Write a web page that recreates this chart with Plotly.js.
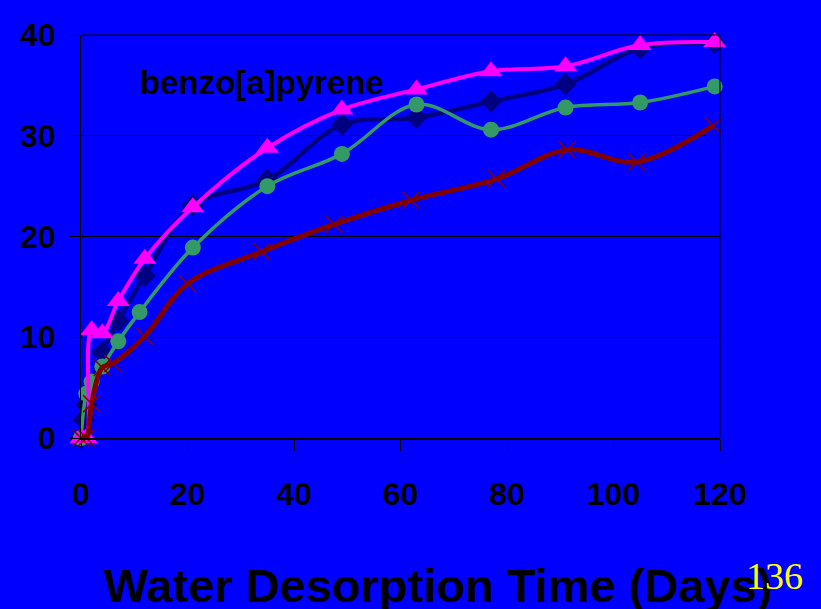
<!DOCTYPE html>
<html>
<head>
<meta charset="utf-8">
<script src="https://cdn.plot.ly/plotly-3.0.1.min.js"></script>
<style>html,body{margin:0;padding:0;background:#0000FF;}#chart{width:821px;height:609px;}</style>
</head>
<body>
<div id="chart"></div>
<script>
// Series (x = days, y = amount desorbed)
const navyX = [0, 0.5, 1, 4, 7, 12, 21, 35, 49, 63, 77, 91, 105, 119];
const navyY = [0, 1.8, 3.3, 8.5, 11.6, 16.1, 23.1, 25.6, 31.1, 31.8, 33.4, 35.1, 38.7, 39.2];

const magentaX = [0, 1, 2, 4, 7, 12, 21, 35, 49, 63, 77, 91, 105, 119];
const magentaY = [0, 0, 10.7, 10.4, 13.6, 17.8, 22.9, 28.8, 32.6, 34.6, 36.4, 36.9, 39.0, 39.3];

const greenX = [0, 1, 2, 4, 7, 11, 21, 35, 49, 63, 77, 91, 105, 119];
const greenY = [0, 4.4, 5.6, 7.1, 9.6, 12.5, 18.9, 25.0, 28.2, 33.1, 30.6, 32.8, 33.3, 34.9];

const redX = [0, 1, 2, 4, 6, 12, 20, 34, 47.5, 62, 78, 91.3, 104.4, 118.7];
const redY = [0, 0, 3.4, 7.0, 7.4, 10.1, 15.3, 18.5, 21.2, 23.6, 25.7, 28.6, 27.4, 31.0];

const xTicks = [0, 20, 40, 60, 80, 100, 120];
const yTicks = [0, 10, 20, 30, 40];

const labelText = "benzo[a]pyrene";
const xTitleText = "Water Desorption Time (Days)";
const pageNumber = "136";

const traces = [
  {x: navyX, y: navyY, mode: 'lines+markers', line: {color: '#000080', width: 4.5, shape: 'spline'},
   marker: {symbol: 'diamond', size: 17, color: '#000080'}, cliponaxis: false},
  {x: greenX, y: greenY, mode: 'lines+markers', line: {color: '#339966', width: 3.5, shape: 'spline'},
   marker: {symbol: 'circle', size: 16, color: '#339966'}, cliponaxis: false},
  {x: magentaX, y: magentaY, mode: 'lines+markers', line: {color: '#FF00FF', width: 4, shape: 'spline'},
   marker: {symbol: 'triangle-up', size: 20, color: '#FF00FF'}, cliponaxis: false},
  {x: redX, y: redY, mode: 'lines+markers', line: {color: '#800000', width: 5, shape: 'spline'},
   marker: {symbol: 'x-thin-open', size: 17, color: '#800000', line: {color: '#800000', width: 1.5}}, cliponaxis: false}
];

const tickFont = {family: 'Liberation Sans, Arial, sans-serif', size: 32, color: '#000000', weight: 'bold'};

const layout = {
  width: 821, height: 609,
  paper_bgcolor: '#0000FF', plot_bgcolor: '#0000FF',
  margin: {l: 81, r: 101, t: 35, b: 171, pad: 0},
  showlegend: false,
  xaxis: {
    range: [0, 120], tickvals: xTicks, ticktext: xTicks.map(String),
    showgrid: false, zeroline: false, showline: true, linecolor: '#000000', linewidth: 2,
    ticks: 'outside', ticklen: 11, tickcolor: '#000000', tickwidth: 1,
    tickfont: tickFont, ticklabelstandoff: 16, fixedrange: true
  },
  yaxis: {
    range: [0, 40], tickvals: yTicks, ticktext: yTicks.map(String),
    showgrid: true, gridcolor: '#000000', gridwidth: 1,
    zeroline: false, showline: true, linecolor: '#000000', linewidth: 1,
    ticks: 'outside', ticklen: 10, tickcolor: '#000000', tickwidth: 1,
    tickfont: tickFont, ticklabelstandoff: 8, fixedrange: true
  },
  shapes: [
    {type: 'line', xref: 'paper', yref: 'paper', x0: 0, x1: 1, y0: 1, y1: 1, line: {color: '#000000', width: 1}},
    {type: 'line', xref: 'paper', yref: 'paper', x0: 1, x1: 1, y0: 0, y1: 1, line: {color: '#000000', width: 1}}
  ],
  annotations: [
    {text: labelText, xref: 'paper', yref: 'paper', x: 0.2825, y: 0.883, xanchor: 'center', yanchor: 'middle',
     showarrow: false, font: {family: 'Liberation Sans, Arial, sans-serif', size: 33, color: '#000000', weight: 'bold'}},
    {text: xTitleText, xref: 'paper', yref: 'paper', x: 0.5594, y: -0.367, xanchor: 'center', yanchor: 'middle',
     showarrow: false, font: {family: 'Liberation Sans, Arial, sans-serif', size: 47, color: '#000000', weight: 'bold'}},
    {text: pageNumber, xref: 'paper', yref: 'paper', x: 1.086, y: -0.342, xanchor: 'center', yanchor: 'middle',
     showarrow: false, font: {family: 'Liberation Serif, Times New Roman, serif', size: 38, color: '#FFFF00'}}
  ]
};

Plotly.newPlot('chart', traces, layout, {displayModeBar: false, staticPlot: true});
</script>
</body>
</html>
